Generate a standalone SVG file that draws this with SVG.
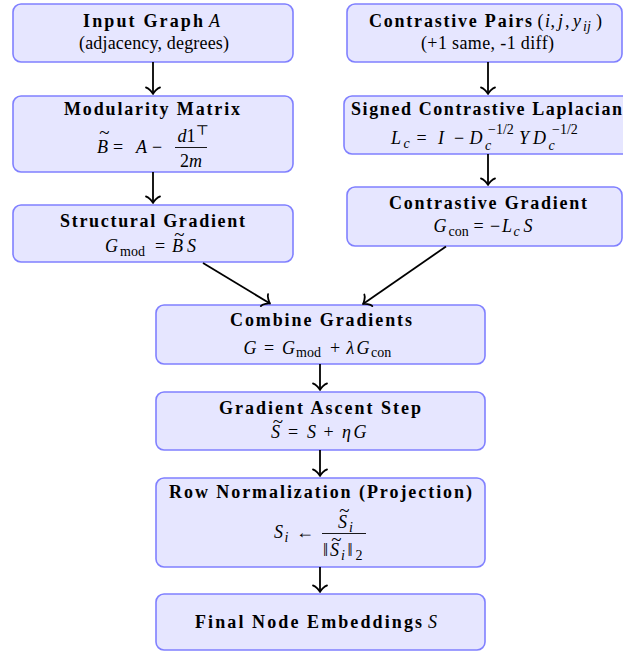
<svg xmlns="http://www.w3.org/2000/svg" width="623" height="652" viewBox="0 0 623 652">
<style>
.box{fill:#e6e6ff;stroke:#8080ff;stroke-width:1.6}
text{font-family:"Liberation Serif","DejaVu Serif",serif;font-size:18px;fill:#000}
.b{font-weight:bold}
.i{font-style:italic}
.s{font-size:14px}
.tl{font-style:normal;font-size:19px}
.bar{stroke:#000;stroke-width:0.9}
.edge{fill:none;stroke:#000;stroke-width:1.8;marker-end:url(#arr)}
</style>
<defs>
<marker id="arr" markerUnits="userSpaceOnUse" markerWidth="20" markerHeight="20" viewBox="-10 -10 20 20" refX="0" refY="0" orient="auto" overflow="visible">
<path d="M-6.5,-7 C-6.1,-4.4 -1.3,-0.45 0,0 C-1.3,0.45 -6.1,4.4 -6.5,7" fill="none" stroke="#000" stroke-width="1.8" stroke-linecap="round" stroke-linejoin="round"/>
</marker>
</defs>

<g id="input">
<rect class="box" x="13" y="4" width="280" height="58" rx="8"/>
<text class="b" x="83" y="27" textLength="120" lengthAdjust="spacing">Input Graph</text>
<text class="i" x="209" y="27">A</text>
<text x="79" y="49" textLength="150" lengthAdjust="spacing">(adjacency, degrees)</text>
</g>

<g id="modularity">
<rect class="box" x="13" y="96" width="280" height="76" rx="8"/>
<text class="b" x="64" y="115" textLength="176" lengthAdjust="spacing">Modularity Matrix</text>
<text class="i" x="97" y="153"><tspan class="tl" x="104.5" y="139" text-anchor="middle">~</tspan><tspan x="97" y="153">B</tspan></text>
<text x="113" y="153">=</text>
<text class="i" x="136" y="153">A</text>
<text x="152" y="153">−</text>
<line class="bar" x1="175" y1="147.5" x2="207" y2="147.5"/>
<text x="177.5" y="142"><tspan class="i">d</tspan>1</text>
<text class="s" x="195.5" y="135">⊤</text>
<text x="191" y="166.5" text-anchor="middle">2<tspan class="i">m</tspan></text>
</g>

<g id="structural">
<rect class="box" x="13" y="205" width="280" height="57" rx="8"/>
<text class="b" x="60" y="227" textLength="185" lengthAdjust="spacing">Structural Gradient</text>
<text class="i" x="105" y="252">G</text>
<text class="s" x="120" y="255.5">mod</text>
<text x="155" y="252">=</text>
<text class="i" x="172" y="252"><tspan class="tl" x="179.5" y="241" text-anchor="middle">~</tspan><tspan x="172" y="252">B</tspan></text>
<text class="i" x="187" y="252">S</text>
</g>

<g id="pairs">
<rect class="box" x="347" y="4" width="275" height="58" rx="8"/>
<text class="b" x="369" y="27" textLength="163" lengthAdjust="spacing">Contrastive Pairs</text>
<text x="537.5" y="27">(</text>
<text class="i" x="545" y="27">i</text>
<text x="550.5" y="27">,</text>
<text class="i" x="558" y="27">j</text>
<text x="565" y="27">,</text>
<text class="i" x="573" y="27">y</text>
<text class="i s" x="583" y="30.5">ij</text>
<text x="596" y="27">)</text>
<text x="421" y="49" textLength="133" lengthAdjust="spacing">(+1 same, -1 diff)</text>
</g>

<g id="laplacian">
<rect class="box" x="344" y="96" width="290" height="58" rx="8"/>
<text class="b" x="351" y="115" textLength="271" lengthAdjust="spacing">Signed Contrastive Laplacian</text>
<text class="i" x="391" y="144">L</text>
<text class="i s" x="403.5" y="147.5">c</text>
<text x="416.5" y="144">=</text>
<text class="i" x="438" y="144">I</text>
<text x="454" y="144">−</text>
<text class="i" x="469.5" y="144">D</text>
<text class="i s" x="485" y="149.5">c</text>
<text class="s" x="488" y="134">−1/2</text>
<text class="i" x="519" y="144">Y</text>
<text class="i" x="533" y="144">D</text>
<text class="i s" x="548.5" y="149.5">c</text>
<text class="s" x="552" y="134">−1/2</text>
</g>

<g id="contrastive-gradient">
<rect class="box" x="347" y="187" width="275" height="59" rx="8"/>
<text class="b" x="389" y="208.5" textLength="198" lengthAdjust="spacing">Contrastive Gradient</text>
<text class="i" x="433.5" y="232">G</text>
<text class="s" x="448.5" y="235.5">con</text>
<text x="473.5" y="232">=</text>
<text x="490" y="232">−</text>
<text class="i" x="502" y="232">L</text>
<text class="i s" x="513.5" y="235.5">c</text>
<text class="i" x="523.5" y="232">S</text>
</g>

<g id="combine">
<rect class="box" x="156" y="305" width="329" height="59" rx="8"/>
<text class="b" x="230" y="326" textLength="182" lengthAdjust="spacing">Combine Gradients</text>
<text class="i" x="243.5" y="353.5">G</text>
<text x="264" y="353.5">=</text>
<text class="i" x="282" y="353.5">G</text>
<text class="s" x="296" y="357">mod</text>
<text x="330" y="353.5">+</text>
<text class="i" x="346.5" y="353.5">λ</text>
<text class="i" x="356.5" y="353.5">G</text>
<text class="s" x="371" y="357">con</text>
</g>

<g id="ascent">
<rect class="box" x="156" y="392" width="329" height="58" rx="8"/>
<text class="b" x="219" y="413.5" textLength="202" lengthAdjust="spacing">Gradient Ascent Step</text>
<text class="i" x="271" y="438"><tspan class="tl" x="278" y="428" text-anchor="middle">~</tspan><tspan x="271" y="438">S</tspan></text>
<text x="288" y="438">=</text>
<text class="i" x="307" y="438">S</text>
<text x="323.5" y="438">+</text>
<text class="i" x="342" y="438">η</text>
<text class="i" x="353.5" y="438">G</text>
</g>

<g id="normalization">
<rect class="box" x="156" y="478" width="329" height="89" rx="8"/>
<text class="b" x="169" y="497.5" textLength="303" lengthAdjust="spacing">Row Normalization (Projection)</text>
<text class="i" x="274" y="538">S</text>
<text class="i s" x="284.5" y="542">i</text>
<text x="296" y="538">←</text>
<line class="bar" x1="322" y1="533.5" x2="366" y2="533.5"/>
<text class="i" x="338" y="528"><tspan class="tl" x="344.5" y="517" text-anchor="middle">~</tspan><tspan x="338" y="528">S</tspan></text>
<text class="i s" x="349" y="531.5">i</text>
<text x="323" y="556">‖</text>
<text class="i" x="330" y="556"><tspan class="tl" x="336.5" y="546" text-anchor="middle">~</tspan><tspan x="330" y="556">S</tspan></text>
<text class="i s" x="341" y="559.5">i</text>
<text x="347.5" y="556">‖</text>
<text class="s" x="355.5" y="559.5">2</text>
</g>

<g id="final">
<rect class="box" x="156" y="594" width="329" height="56" rx="8"/>
<text class="b" x="195" y="627.5" textLength="227" lengthAdjust="spacing">Final Node Embeddings</text>
<text class="i" x="428" y="627.5">S</text>
</g>

<g id="edges">
<path class="edge" d="M153,62 L153,94"/>
<path class="edge" d="M153,172 L153,203"/>
<path class="edge" d="M488,62 L488,94"/>
<path class="edge" d="M488,154 L488,185"/>
<path class="edge" d="M203,263 L270,303.5"/>
<path class="edge" d="M446,246.5 L363,304"/>
<path class="edge" d="M320,364 L320,390"/>
<path class="edge" d="M320,450 L320,476"/>
<path class="edge" d="M320,567 L320,592"/>
</g>
</svg>
